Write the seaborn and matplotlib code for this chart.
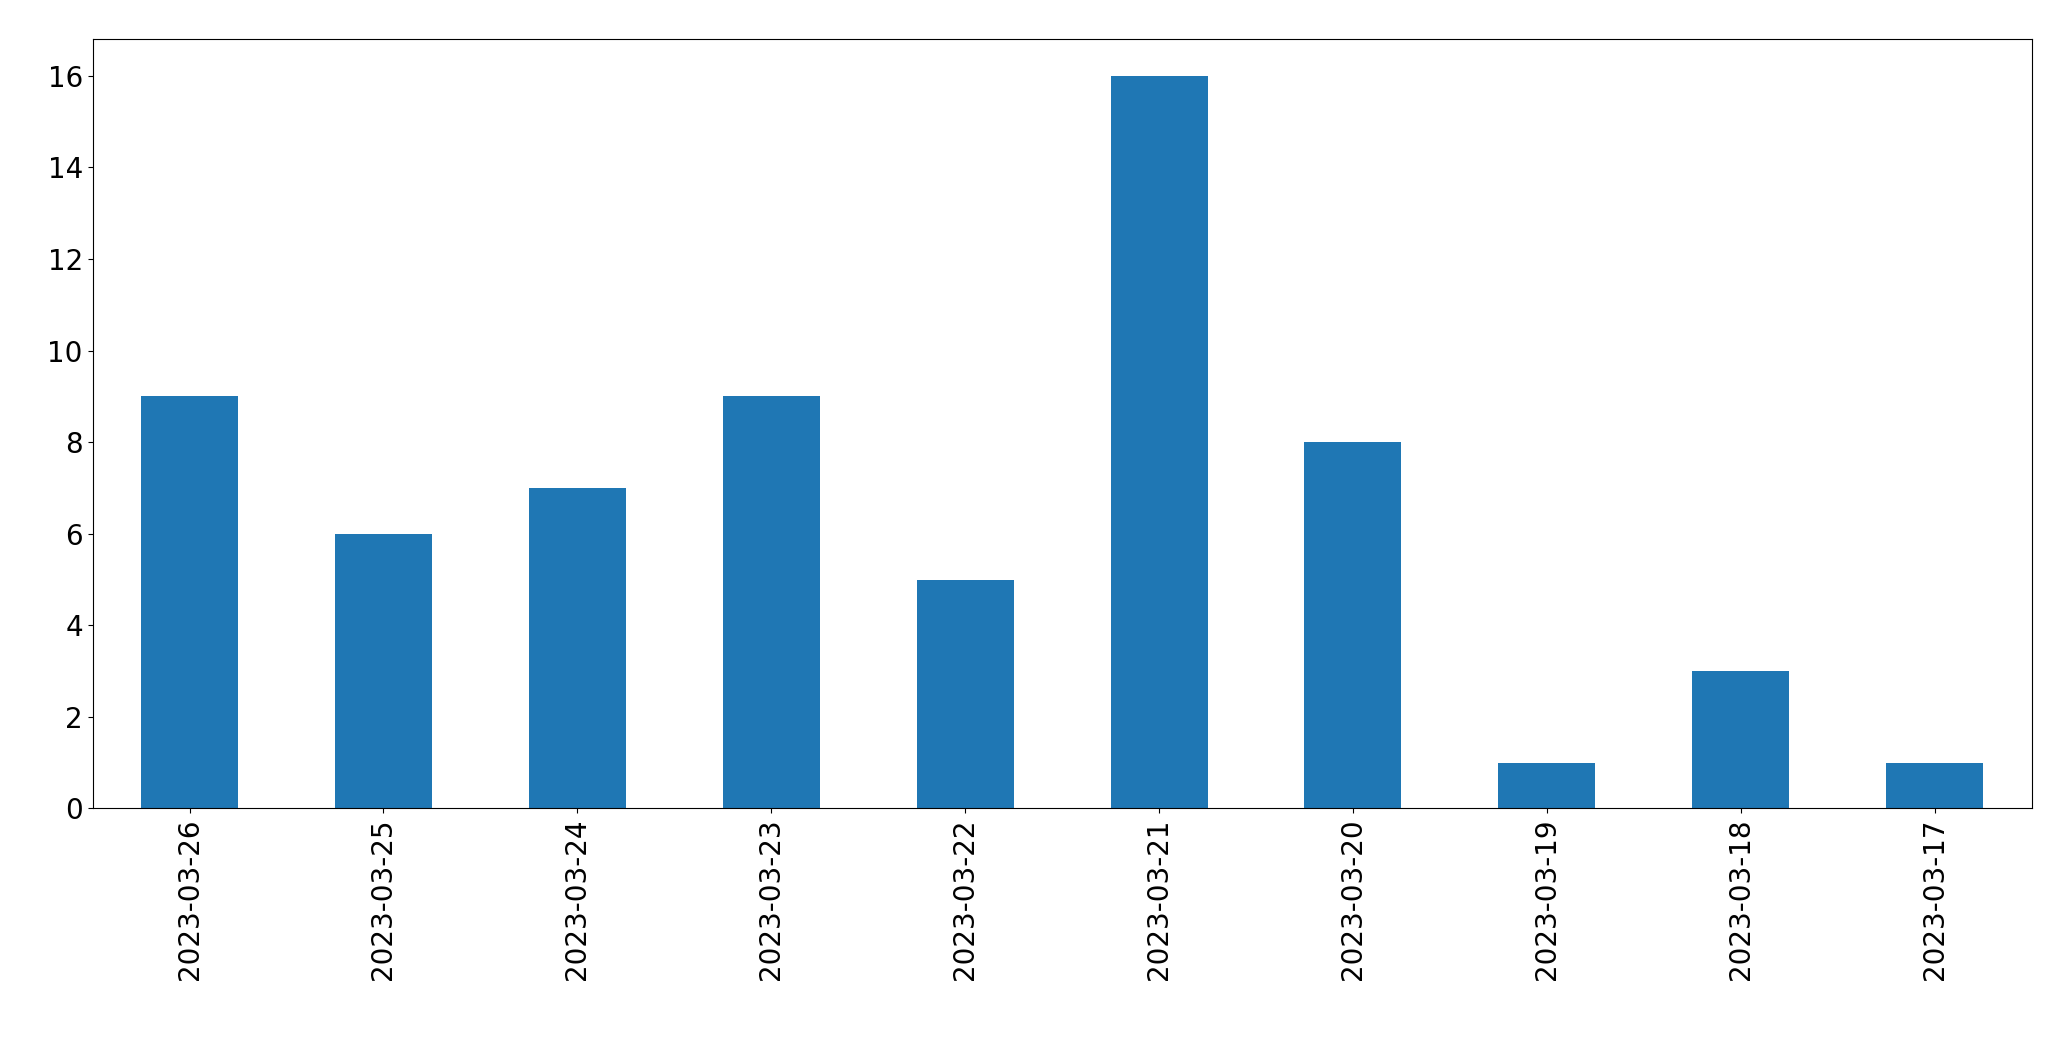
import matplotlib
matplotlib.use("Agg")
import matplotlib.pyplot as plt
import seaborn as sns
import pandas as pd

dates = ["2023-03-26","2023-03-25","2023-03-24","2023-03-23","2023-03-22",
         "2023-03-21","2023-03-20","2023-03-19","2023-03-18","2023-03-17"]
counts = [9, 6, 7, 9, 5, 16, 8, 1, 3, 1]

df = pd.DataFrame({"date": dates, "count": counts})
fig = plt.figure(figsize=(20.71, 10.61), dpi=100)
ax = fig.add_axes([0.0447, 0.238, 0.9363, 0.725])
sns.barplot(data=df, x="date", y="count", color="#1f77b4", saturation=1, width=0.5, ax=ax)
ax.set_xlabel("")
ax.set_ylabel("")
ax.set_xlim(-0.5, len(dates) - 0.5)
ax.set_ylim(0, 16.8)
ax.tick_params(axis="x", labelrotation=90, labelsize=20)
ax.tick_params(axis="y", labelsize=20)
fig.savefig("out.png", dpi=100)
